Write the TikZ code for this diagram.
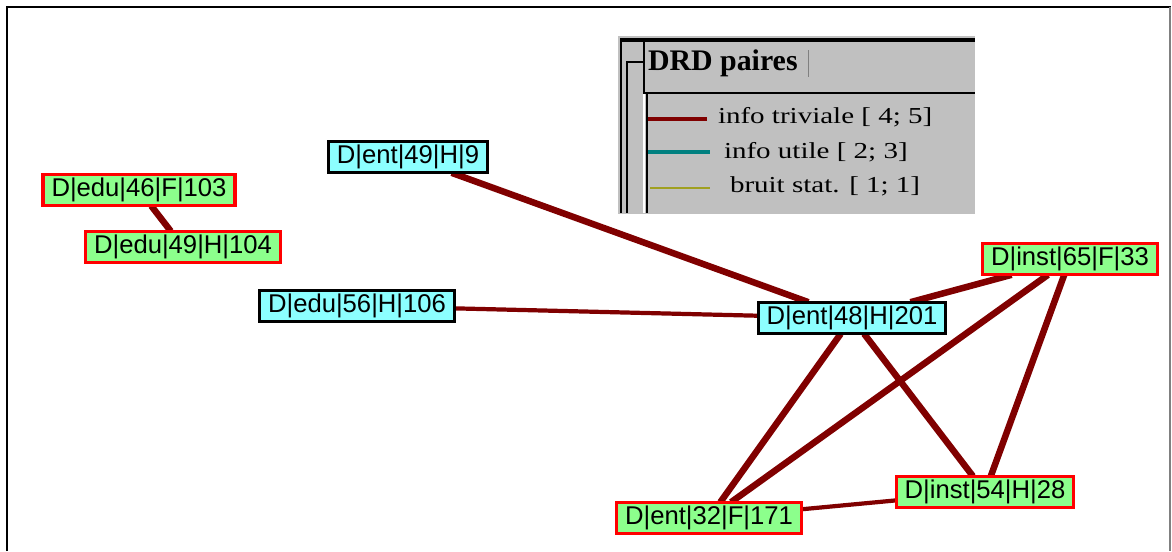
\documentclass[tikz,border=0pt]{standalone}
\usepackage{fontspec}
\setmainfont{Liberation Serif}
\setsansfont{Liberation Sans}
\usetikzlibrary{backgrounds}

\definecolor{lien}{RGB}{128,0,0}
\definecolor{vertclair}{RGB}{140,255,140}
\definecolor{cyanclair}{RGB}{140,255,255}
\definecolor{gris}{RGB}{192,192,192}
\definecolor{sarcelle}{RGB}{0,128,128}
\definecolor{olive}{RGB}{160,160,32}

\newcommand{\etire}[1]{\scalebox{1.27}[1]{#1}}

\begin{document}
\begin{tikzpicture}[x=0.02cm, y=-0.02cm]
\tikzset{ >=latex, outer sep=0pt,
  var/.style={inner xsep=4.8pt, inner ysep=0pt, minimum height=18pt, line width=1.8pt,
              font=\fontsize{14.6}{16}\sffamily},
  varF/.style={var, draw=red, fill=vertclair},
  varH/.style={var, draw=black, fill=cyanclair},
  fort/.style={draw=lien, line width=3.7pt},
  faible/.style={draw=lien, line width=2.4pt},
  leg/.style={anchor=west, inner sep=0pt, font=\fontsize{13}{15}\selectfont},
}
\useasboundingbox (0,0) rectangle (1172,551);

%\draw [lightgray, dashed](0,0) grid[step=50] (1172,551);

% cadre
\draw [line width=1.2pt] (7,551) -- (7,7) -- (1171,7);
\draw [gray, line width=1.2pt] (1170,7) -- (1170,551);

% legende
\fill [gris] (618,36) rectangle (975,214);
\draw [line width=1.8pt] (620,40) -- (975,40);
\draw [line width=1.1pt] (621,40) -- (621,213);
\draw [line width=0.9pt] (643,62) -- (627,62) -- (627,213);
\draw [line width=0.8pt] (644,40) -- (644,93) -- (975,93);
\draw [white, line width=0.8pt] (644,94) -- (644,213);
\draw [line width=0.9pt] (647,94) -- (647,213);
\draw [gray, line width=0.4pt] (808,50) -- (808,77);

\node [anchor=west, inner sep=0pt, font=\fontsize{17}{19}\bfseries] (titre) at (648,63) {DRD paires};

\draw [lien, line width=2.8pt] (648,119) -- (707,119);
\draw [sarcelle, line width=2pt] (648,152) -- (710,152);
\draw [olive, line width=1.3pt] (650,188) -- (710,188);

\node [leg] (triv) at (718,117) {\etire{info triviale [ 4; 5]}};
\node [leg] (util) at (724,152) {\etire{info utile [ 2; 3]}};
\node [leg] (bruit) at (730,186) {\etire{bruit stat. [ 1; 1]}};

% variables
\node [varF] (edu46) at (139,190) {D|edu|46|F|103};
\node [varF] (edu49) at (183,247) {D|edu|49|H|104};
\node [varH] (ent49) at (408,157) {D|ent|49|H|9};
\node [varH] (edu56) at (357,306) {D|edu|56|H|106};
\node [varH] (ent48) at (852,318) {D|ent|48|H|201};
\node [varF] (inst65) at (1070,259) {D|inst|65|F|33};
\node [varF] (inst54) at (985,492) {D|inst|54|H|28};
\node [varF] (ent32) at (709,518) {D|ent|32|F|171};

% liens
\begin{scope}[on background layer]
\draw [fort] (edu46) -- (edu49);
\draw [fort] (ent49) -- (ent48);
\draw [faible] (edu56) -- (ent48);
\draw [fort] (ent48) -- (inst65);
\draw [fort] (ent48) -- (ent32);
\draw [fort] (ent48) -- (inst54);
\draw [fort] (inst65) -- (ent32);
\draw [fort] (inst65) -- (inst54);
\draw [faible] (ent32) -- (inst54);
\end{scope}

\end{tikzpicture}
\end{document}
